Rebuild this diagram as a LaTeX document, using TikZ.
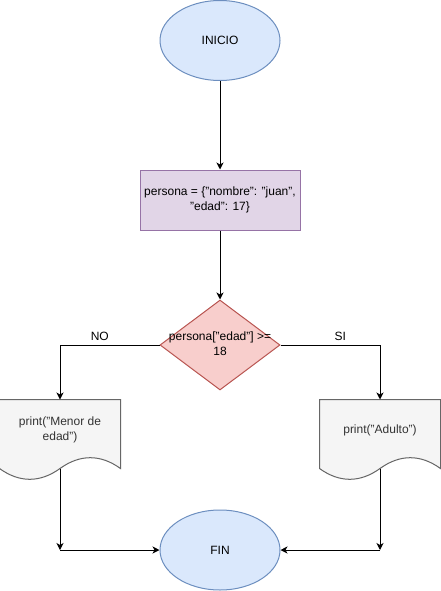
\documentclass[tikz,border=0pt]{standalone}
\usepackage{fontspec}
\setmainfont{Liberation Sans}
\usetikzlibrary{arrows.meta,positioning,calc,backgrounds,shapes.geometric}
\definecolor{TermFill}{HTML}{DAE8FC}
\definecolor{TermLine}{HTML}{6C8EBF}
\definecolor{ProcFill}{HTML}{E1D5E7}
\definecolor{ProcLine}{HTML}{9673A6}
\definecolor{DecFill}{HTML}{F8CECC}
\definecolor{DecLine}{HTML}{B85450}
\definecolor{DocFill}{HTML}{F5F5F5}
\definecolor{DocLine}{HTML}{666666}
\definecolor{DocText}{HTML}{333333}
\tikzset{
  >=Stealth,
  base/.style={font=\fontsize{12}{15}\selectfont,align=center,inner sep=0pt,line width=1pt},
  terminal/.style={base,ellipse,draw=TermLine,fill=TermFill,minimum width=120pt,minimum height=80pt},
  process/.style={base,rectangle,draw=ProcLine,fill=ProcFill,minimum width=160pt,minimum height=60pt},
  decision/.style={base,diamond,draw=DecLine,fill=DecFill,minimum width=120pt,minimum height=90pt},
  doc/.style={base,rectangle,text=DocText,minimum width=120pt,minimum height=60pt},
  docline/.style={draw=DocLine,fill=DocFill,line width=1pt},
  flow/.style={-{Stealth[length=7pt,width=7pt,inset=2pt]},line width=1pt,draw=black},
  tag/.style={font=\fontsize{12}{15}\selectfont,inner sep=4pt}
}
% draws the wavy document outline behind a doc node
\newcommand{\docshape}[1]{%
  \draw[docline] (#1.north west) -- (#1.north east) -- ($(#1.south east)+(0,8)$)
    .. controls +(-20,-14.4) and +(20,-14.4) .. ($(#1.south)+(0,8)$)
    .. controls +(-20,14.4) and +(20,14.4) .. ($(#1.south west)+(0,8)$) -- cycle;}

\begin{document}
\begin{tikzpicture}[x=1pt,y=-1pt]
  \useasboundingbox (0,0) rectangle (441,591);
  \node[terminal] (inicio) at (220,40.5) {INICIO};
  \node[process] (datos) at (220,200) {persona = \{"nombre": "juan",\\"edad": 17\}};
  \node[decision] (edad) at (220,345) {\makebox[0pt]{\begin{tabular}{@{}c@{}}persona["edad"] >=\\18\end{tabular}}};
  \node[doc] (menor) at (60,430) {print("Menor de\\edad")};
  \node[doc] (adulto) at (380,430) {print("Adulto")};
  \node[terminal] (fin) at (220,550) {FIN};
  \begin{scope}[on background layer]
    \docshape{menor}
    \docshape{adulto}
  \end{scope}
  \coordinate (menorout) at ($(menor.south)+(0,8)$);
  \coordinate (adultoout) at ($(adulto.south)+(0,8)$);
  \coordinate (jmenor) at (menor |- fin);
  \coordinate (jadulto) at (adulto |- fin);
  \draw[flow] (inicio) -- (datos);
  \draw[flow] (datos) -- (edad);
  \draw[flow] (edad.west) -| node[tag,pos=0.3,above] {NO} (menor.north);
  \draw[flow] (edad.east) -| node[tag,pos=0.3,above] {SI} (adulto.north);
  \draw[flow] (menorout) -- (jmenor);
  \draw[flow] (jmenor) -- (fin.west);
  \draw[flow] (adultoout) -- (jadulto);
  \draw[flow] (jadulto) -- (fin.east);
\end{tikzpicture}
\end{document}
